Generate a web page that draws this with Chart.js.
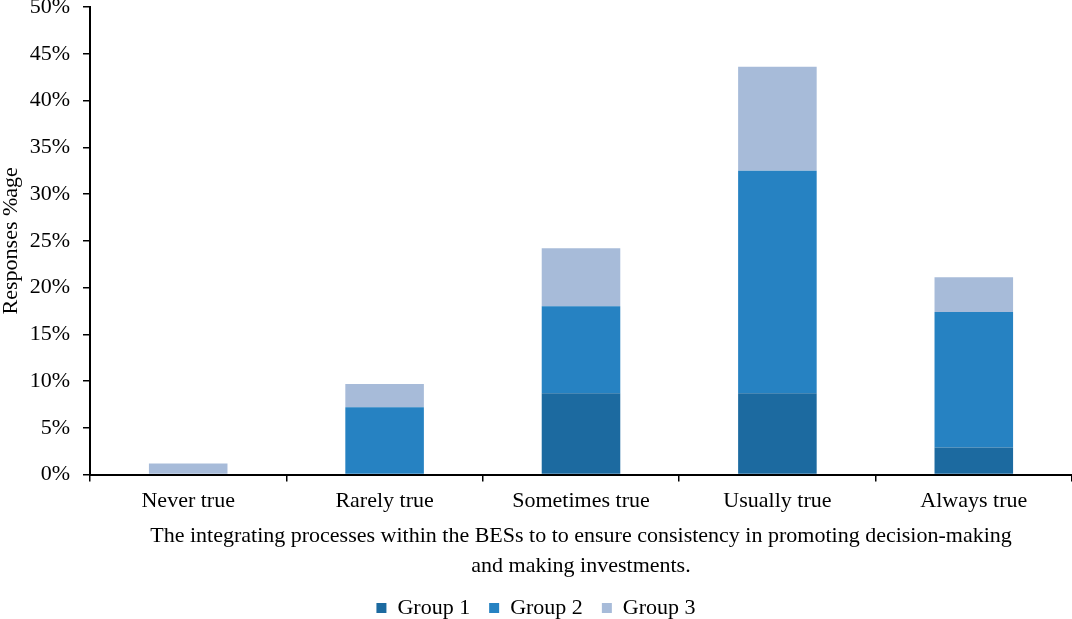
<!DOCTYPE html>
<html>
<head>
<meta charset="utf-8">
<title>Responses by group</title>
<script src="https://cdn.jsdelivr.net/npm/chart.js@4"></script>
<style>
  html, body { margin: 0; padding: 0; background: #fff; }
  #wrap { width: 1072px; height: 619px; position: relative; }
</style>
</head>
<body>
<div id="wrap"><canvas id="grafico"></canvas></div>
<script>
// values (percent of responses)
const categorias = ['Never true', 'Rarely true', 'Sometimes true', 'Usually true', 'Always true'];
const grupo1 = [0, 0, 8.7, 8.7, 2.9];
const grupo2 = [0, 7.2, 9.3, 23.8, 14.5];
const grupo3 = [1.2, 2.5, 6.2, 11.1, 3.7];
const etiquetasY = [0, 5, 10, 15, 20, 25, 30, 35, 40, 45, 50];

const fuente = 'Liberation Serif, Times New Roman, serif';
Chart.defaults.font.family = fuente;
Chart.defaults.font.size = 22;
Chart.defaults.color = '#000';

const ctx = document.getElementById('grafico').getContext('2d');

new Chart(ctx, {
    type: 'bar',
    data: {
        labels: categorias,
        datasets: [
            { label: 'Group 1', data: grupo1, backgroundColor: '#1c6aa0', borderWidth: 0 },
            { label: 'Group 2', data: grupo2, backgroundColor: '#2682c2', borderWidth: 0 },
            { label: 'Group 3', data: grupo3, backgroundColor: '#a7bbd9', borderWidth: 0 }
        ]
    },
    options: {
        responsive: true,
        maintainAspectRatio: false,
        animation: false,
        // legend sits a bit lower than Chart.js would put it
        layout: { padding: { left: 0, right: 0, top: 0, bottom: -10 } },
        datasets: {
            bar: { barPercentage: 0.4, categoryPercentage: 1 }
        },
        scales: {
            x: {
                stacked: true,
                grid: {
                    display: true,
                    drawOnChartArea: false,
                    drawTicks: true,
                    tickLength: 7,
                    color: '#000',
                    lineWidth: 1.5,
                    offset: true
                },
                border: { display: true, color: '#000', width: 2 },
                ticks: { padding: 6, font: { size: 22 } },
                title: {
                    display: true,
                    text: [
                        'The integrating processes within the BESs to to ensure consistency in promoting decision-making',
                        'and making investments.'
                    ],
                    font: { size: 22, lineHeight: 30 / 22 },
                    padding: { top: 1, bottom: -3 }
                }
            },
            y: {
                stacked: true,
                min: 0,
                max: 50,
                afterBuildTicks: function (scale) {
                    scale.ticks = etiquetasY.map(v => ({ value: v }));
                },
                afterFit: function (scale) {
                    scale.width = 90;
                    scale.paddingTop = 7;
                },
                grid: {
                    display: true,
                    drawOnChartArea: false,
                    drawTicks: true,
                    tickLength: 7,
                    color: '#000',
                    lineWidth: 1.5
                },
                border: { display: true, color: '#000', width: 2 },
                ticks: {
                    padding: 13,
                    font: { size: 22 },
                    callback: function (value) {
                        return value + '%';
                    }
                },
                title: {
                    display: true,
                    text: 'Responses %age',
                    font: { size: 22, lineHeight: 1 },
                    padding: 0
                }
            }
        },
        plugins: {
            legend: {
                position: 'bottom',
                labels: {
                    boxWidth: 10,
                    boxHeight: 10,
                    padding: 19,
                    font: { size: 22 }
                }
            },
            tooltip: { enabled: false }
        }
    }
});
</script>
</body>
</html>
